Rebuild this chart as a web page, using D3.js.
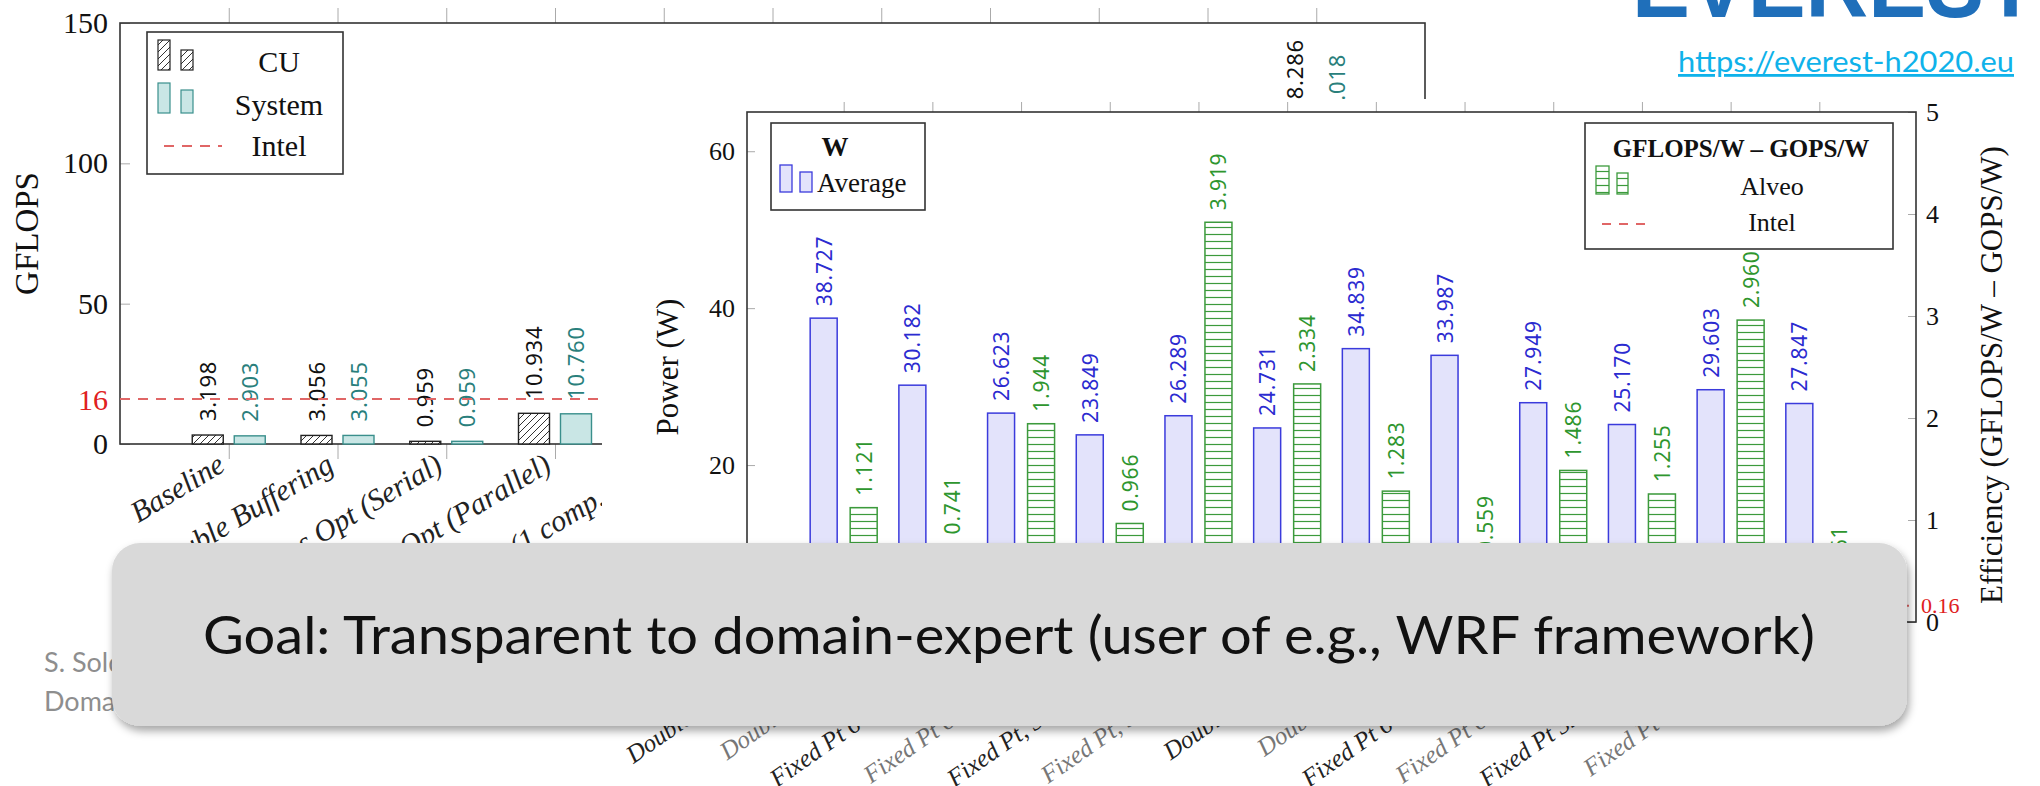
<!DOCTYPE html>
<html>
<head>
<meta charset="utf-8">
<script src="https://cdn.jsdelivr.net/npm/d3@7"></script>
<style>
  html, body { margin: 0; padding: 0; background: #fff; }
  svg { display: block; }
</style>
</head>
<body>
<script>
// ---------- GFLOPS per optimisation step (rear chart) ----------
const gflopsCategories = [
  "Baseline", "Double Buffering", "Memory Access Opt (Serial)", "Memory Access Opt (Parallel)",
  "Memory (1 comp. unit)", "Memory (2 comp. units)", "Memory (3 comp. units)",
  "Memory (4 comp. units)", "Memory (5 comp. units)", "Memory (6 comp. units)",
  "Memory (7 comp. units)"
];
// values that sit behind the front chart are unknown
const cuGflops     = [3.198, 3.056, 0.959, 10.934, null, null, null, null, null, null, 108.286];
const systemGflops = [2.903, 3.055, 0.959, 10.760, null, null, null, null, null, null, 103.018];
const intelGflops = 16;
const gflopsTicks = [0, 50, 100, 150];

// ---------- Power and efficiency per configuration (front chart) ----------
const configCategories = [
  "Double Precision, 1 CU", "Double Precision 2 CU",
  "Fixed Pt 64b, Q32.32, 1 CU", "Fixed Pt 64b Q32.32, 2 CU",
  "Fixed Pt, 32b Q16.16, 1 CU", "Fixed Pt, 32b Q16.16 2 CU",
  "Double Precision 3 CU", "Double Precision 4CU",
  "Fixed Pt 64b, Q32.32, 3 CU", "Fixed Pt 64b Q32.32, 4 CU",
  "Fixed Pt 32b, Q16.16, 3 CU", "Fixed Pt 32b Q16.16 4CU"
];
const averagePower = [38.727, 30.182, 26.623, 23.849, 26.289, 24.731, 34.839, 33.987, 27.949, 25.170, 29.603, 27.847];
const alveoEfficiency = [1.121, 0.741, 1.944, 0.966, 3.919, 2.334, 1.283, 0.559, 1.486, 1.255, 2.960, 0.261];
const intelEfficiency = 0.16;
const powerTicks = [0, 20, 40, 60];
const efficiencyTicks = [0, 1, 2, 3, 4, 5];

const W = 2040, H = 786;
const serif = "'Liberation Serif', 'DejaVu Serif', serif";
const sans = "'Noto Sans', 'DejaVu Sans', sans-serif";
const slide = "Lato, 'Noto Sans', sans-serif";
const fmt = d3.format(".3f");

const svg = d3.select("body").append("svg").attr("width", W).attr("height", H);
const defs = svg.append("defs");

// hatch for CU bars
const hatch = defs.append("pattern").attr("id", "hatchCU")
  .attr("patternUnits", "userSpaceOnUse").attr("width", 7).attr("height", 7);
hatch.append("rect").attr("width", 7).attr("height", 7).attr("fill", "#fff");
hatch.append("path").attr("d", "M-1,1 l2,-2 M0,7 l7,-7 M6,8 l2,-2")
  .attr("stroke", "#333").attr("stroke-width", 1);

// horizontal rungs for the Alveo efficiency bars
const rungs = defs.append("pattern").attr("id", "rungs")
  .attr("patternUnits", "userSpaceOnUse").attr("width", 10).attr("height", 7);
rungs.append("rect").attr("width", 10).attr("height", 7).attr("fill", "#fff");
rungs.append("path").attr("d", "M0,3.5 H10").attr("stroke", "#3c9a3c").attr("stroke-width", 1.2);

const shadow = defs.append("filter").attr("id", "boxShadow")
  .attr("x", "-5%").attr("y", "-20%").attr("width", "110%").attr("height", "150%");
shadow.append("feDropShadow").attr("dx", 2).attr("dy", 5).attr("stdDeviation", 4)
  .attr("flood-color", "#000").attr("flood-opacity", 0.35);

// ================= rear chart: GFLOPS =================
const rear = svg.append("g");
const bx = d3.scalePoint().domain(gflopsCategories).range([120, 1425]).padding(1);
const by = d3.scaleLinear().domain([0, 150]).range([444, 23]);

// tick marks on top and bottom of the frame
rear.append("g").attr("transform", "translate(0,23)")
  .call(d3.axisTop(bx).tickSize(15).tickFormat(""))
  .call(g => g.select(".domain").remove())
  .call(g => g.selectAll("line").attr("stroke", "#aaa"));
rear.append("g").attr("transform", "translate(0,444)")
  .call(d3.axisBottom(bx).tickSize(15).tickFormat(""))
  .call(g => g.select(".domain").remove())
  .call(g => g.selectAll("line").attr("stroke", "#aaa"));

rear.append("g").attr("transform", "translate(120,0)")
  .call(d3.axisLeft(by).tickValues(gflopsTicks).tickFormat(d3.format("d"))
    .tickSizeInner(-10).tickSizeOuter(0).tickPadding(12))
  .call(g => g.select(".domain").remove())
  .call(g => g.selectAll("line").attr("stroke", "#aaa"))
  .call(g => g.selectAll("text").attr("font-family", serif).attr("font-size", 30).attr("fill", "#111"));

rear.append("text").attr("x", 108).attr("y", by(intelGflops)).attr("dy", "0.35em")
  .attr("text-anchor", "end").attr("font-family", serif).attr("font-size", 30)
  .attr("fill", "#e02020").text(intelGflops);

rear.append("rect").attr("x", 120).attr("y", 23).attr("width", 1305).attr("height", 421)
  .attr("fill", "none").attr("stroke", "#333").attr("stroke-width", 1.6);

rear.append("text").attr("transform", `translate(38,${(23 + 444) / 2}) rotate(-90)`)
  .attr("text-anchor", "middle").attr("font-family", serif).attr("font-size", 33)
  .attr("fill", "#111").text("GFLOPS");

const rearData = gflopsCategories.map((c, i) => ({ c, cu: cuGflops[i], sys: systemGflops[i] }));
const bw = 31;
rear.selectAll("rect.cu").data(rearData.filter(d => d.cu != null)).join("rect")
  .attr("class", "cu")
  .attr("x", d => bx(d.c) - 21 - bw / 2).attr("width", bw)
  .attr("y", d => by(d.cu)).attr("height", d => by(0) - by(d.cu))
  .attr("fill", "url(#hatchCU)").attr("stroke", "#222").attr("stroke-width", 1.4);
rear.selectAll("rect.sys").data(rearData.filter(d => d.sys != null)).join("rect")
  .attr("class", "sys")
  .attr("x", d => bx(d.c) + 21 - bw / 2).attr("width", bw)
  .attr("y", d => by(d.sys)).attr("height", d => by(0) - by(d.sys))
  .attr("fill", "#c9e6e5").attr("stroke", "#3a8f8c").attr("stroke-width", 1.4);

rear.selectAll("text.cuv").data(rearData.filter(d => d.cu != null)).join("text")
  .attr("class", "cuv")
  .attr("transform", d => `translate(${bx(d.c) - 21 + 8},${by(d.cu) - 14}) rotate(-90)`)
  .attr("font-family", sans).attr("font-size", 22).attr("letter-spacing", 0.8)
  .attr("fill", "#111").text(d => fmt(d.cu));
rear.selectAll("text.sysv").data(rearData.filter(d => d.sys != null)).join("text")
  .attr("class", "sysv")
  .attr("transform", d => `translate(${bx(d.c) + 21 + 8},${by(d.sys) - 14}) rotate(-90)`)
  .attr("font-family", sans).attr("font-size", 22).attr("letter-spacing", 0.8)
  .attr("fill", "#2a7f7c").text(d => fmt(d.sys));

rear.append("line").attr("x1", 120).attr("x2", 1425)
  .attr("y1", by(intelGflops)).attr("y2", by(intelGflops))
  .attr("stroke", "#e06666").attr("stroke-width", 2).attr("stroke-dasharray", "10,8");

rear.selectAll("text.xlab").data(gflopsCategories).join("text")
  .attr("class", "xlab")
  .attr("transform", d => `translate(${bx(d) - 2},${470}) rotate(-31)`)
  .attr("text-anchor", "end").attr("font-family", serif).attr("font-style", "italic")
  .attr("font-size", 30).attr("fill", "#222").text(d => d);

// legend
const rl = rear.append("g");
rl.append("rect").attr("x", 147).attr("y", 32).attr("width", 196).attr("height", 142)
  .attr("fill", "#fff").attr("stroke", "#333").attr("stroke-width", 1.6);
[[158, 40, 12, 30], [181, 50, 12, 20]].forEach(([x, y, w, h]) =>
  rl.append("rect").attr("x", x).attr("y", y).attr("width", w).attr("height", h)
    .attr("fill", "url(#hatchCU)").attr("stroke", "#222").attr("stroke-width", 1.2));
[[158, 83, 12, 30], [181, 90, 12, 23]].forEach(([x, y, w, h]) =>
  rl.append("rect").attr("x", x).attr("y", y).attr("width", w).attr("height", h)
    .attr("fill", "#c9e6e5").attr("stroke", "#3a8f8c").attr("stroke-width", 1.2));
rl.append("line").attr("x1", 164).attr("x2", 222).attr("y1", 146).attr("y2", 146)
  .attr("stroke", "#e06666").attr("stroke-width", 2).attr("stroke-dasharray", "10,8");
[["CU", 61], ["System", 104], ["Intel", 145]].forEach(([t, y]) =>
  rl.append("text").attr("x", 279).attr("y", y).attr("dy", "0.35em").attr("text-anchor", "middle")
    .attr("font-family", serif).attr("font-size", 30).attr("fill", "#111").text(t));

// ================= front chart: power and efficiency =================
const front = svg.append("g");
front.append("rect").attr("x", 602).attr("y", 99).attr("width", W - 602).attr("height", H - 99)
  .attr("fill", "#fff");

const fx = d3.scalePoint().domain(configCategories).range([747, 1916]).padding(1.09);
const fyL = d3.scaleLinear().domain([0, 65]).range([622, 112]);
const fyR = d3.scaleLinear().domain([0, 5]).range([622, 112]);

front.append("g").attr("transform", "translate(0,112)")
  .call(d3.axisTop(fx).tickSize(10).tickFormat(""))
  .call(g => g.select(".domain").remove())
  .call(g => g.selectAll("line").attr("stroke", "#aaa"));
front.append("g").attr("transform", "translate(0,622)")
  .call(d3.axisBottom(fx).tickSize(10).tickFormat(""))
  .call(g => g.select(".domain").remove())
  .call(g => g.selectAll("line").attr("stroke", "#aaa"));

front.append("g").attr("transform", "translate(747,0)")
  .call(d3.axisLeft(fyL).tickValues(powerTicks).tickFormat(d3.format("d"))
    .tickSizeInner(-8).tickSizeOuter(0).tickPadding(12))
  .call(g => g.select(".domain").remove())
  .call(g => g.selectAll("line").attr("stroke", "#aaa"))
  .call(g => g.selectAll("text").attr("font-family", serif).attr("font-size", 26).attr("fill", "#111"));
front.append("g").attr("transform", "translate(1916,0)")
  .call(d3.axisRight(fyR).tickValues(efficiencyTicks).tickFormat(d3.format("d"))
    .tickSizeInner(-8).tickSizeOuter(0).tickPadding(10))
  .call(g => g.select(".domain").remove())
  .call(g => g.selectAll("line").attr("stroke", "#aaa"))
  .call(g => g.selectAll("text").attr("font-family", serif).attr("font-size", 26).attr("fill", "#111"));
front.append("text").attr("x", 1921).attr("y", fyR(intelEfficiency)).attr("dy", "0.35em")
  .attr("font-family", serif).attr("font-size", 22).attr("fill", "#e02020").text(intelEfficiency.toFixed(2));

front.append("rect").attr("x", 747).attr("y", 112).attr("width", 1916 - 747).attr("height", 510)
  .attr("fill", "none").attr("stroke", "#333").attr("stroke-width", 1.6);

front.append("text").attr("transform", `translate(678,${(112 + 622) / 2}) rotate(-90)`)
  .attr("text-anchor", "middle").attr("font-family", serif).attr("font-size", 31)
  .attr("fill", "#111").text("Power (W)");
front.append("text").attr("transform", `translate(2002,${(112 + 622) / 2 + 8}) rotate(-90)`)
  .attr("text-anchor", "middle").attr("font-family", serif).attr("font-size", 31)
  .attr("fill", "#111").text("Efficiency (GFLOPS/W – GOPS/W)");

const frontData = configCategories.map((c, i) => ({ c, p: averagePower[i], e: alveoEfficiency[i] }));
const fw = 27;
front.selectAll("rect.pw").data(frontData).join("rect")
  .attr("class", "pw")
  .attr("x", d => fx(d.c) - 20 - fw / 2).attr("width", fw)
  .attr("y", d => fyL(d.p)).attr("height", d => fyL(0) - fyL(d.p))
  .attr("fill", "#e3e3fb").attr("stroke", "#3b3bdc").attr("stroke-width", 1.5);
front.selectAll("rect.ef").data(frontData).join("rect")
  .attr("class", "ef")
  .attr("x", d => fx(d.c) + 20 - fw / 2).attr("width", fw)
  .attr("y", d => fyR(d.e)).attr("height", d => fyR(0) - fyR(d.e))
  .attr("fill", "url(#rungs)").attr("stroke", "#3c9a3c").attr("stroke-width", 1.5);

front.selectAll("text.pwv").data(frontData).join("text")
  .attr("class", "pwv")
  .attr("transform", d => `translate(${fx(d.c) - 20 + 8},${fyL(d.p) - 12}) rotate(-90)`)
  .attr("font-family", sans).attr("font-size", 21).attr("letter-spacing", 0.8)
  .attr("fill", "#2b2bd0").text(d => fmt(d.p));
front.selectAll("text.efv").data(frontData).join("text")
  .attr("class", "efv")
  .attr("transform", d => `translate(${fx(d.c) + 20 + 8},${fyR(d.e) - 12}) rotate(-90)`)
  .attr("font-family", sans).attr("font-size", 21).attr("letter-spacing", 0.8)
  .attr("fill", "#2e962e").text(d => fmt(d.e));

front.append("line").attr("x1", 747).attr("x2", 1916)
  .attr("y1", fyR(intelEfficiency)).attr("y2", fyR(intelEfficiency))
  .attr("stroke", "#e06666").attr("stroke-width", 2).attr("stroke-dasharray", "10,8");

front.selectAll("text.xlab").data(configCategories).join("text")
  .attr("class", "xlab")
  .attr("transform", d => `translate(${fx(d) - 13},${626}) rotate(-35)`)
  .attr("text-anchor", "end").attr("font-family", serif).attr("font-style", "italic")
  .attr("font-size", 25).attr("fill", (d, i) => i % 2 ? "#777" : "#222").text(d => d);

// power legend
const pl = front.append("g");
pl.append("rect").attr("x", 771).attr("y", 123).attr("width", 154).attr("height", 87)
  .attr("fill", "#fff").attr("stroke", "#333").attr("stroke-width", 1.6);
pl.append("text").attr("x", 835).attr("y", 147).attr("dy", "0.35em").attr("text-anchor", "middle")
  .attr("font-family", serif).attr("font-weight", "bold").attr("font-size", 27).attr("fill", "#111").text("W");
[[780, 165, 12, 27], [800, 172, 12, 20]].forEach(([x, y, w, h]) =>
  pl.append("rect").attr("x", x).attr("y", y).attr("width", w).attr("height", h)
    .attr("fill", "#e3e3fb").attr("stroke", "#3b3bdc").attr("stroke-width", 1.3));
pl.append("text").attr("x", 817).attr("y", 183).attr("dy", "0.35em")
  .attr("font-family", serif).attr("font-size", 27).attr("fill", "#111").text("Average");

// efficiency legend
const el = front.append("g");
el.append("rect").attr("x", 1585).attr("y", 123).attr("width", 308).attr("height", 126)
  .attr("fill", "#fff").attr("stroke", "#333").attr("stroke-width", 1.6);
el.append("text").attr("x", 1741).attr("y", 148).attr("dy", "0.35em").attr("text-anchor", "middle")
  .attr("font-family", serif).attr("font-weight", "bold").attr("font-size", 25).attr("fill", "#111")
  .text("GFLOPS/W – GOPS/W");
[[1596, 166, 13, 28], [1617, 173, 11, 21]].forEach(([x, y, w, h]) =>
  el.append("rect").attr("x", x).attr("y", y).attr("width", w).attr("height", h)
    .attr("fill", "url(#rungs)").attr("stroke", "#3c9a3c").attr("stroke-width", 1.3));
el.append("line").attr("x1", 1602).attr("x2", 1652).attr("y1", 224).attr("y2", 224)
  .attr("stroke", "#e06666").attr("stroke-width", 2).attr("stroke-dasharray", "9,8");
[["Alveo", 186], ["Intel", 222]].forEach(([t, y]) =>
  el.append("text").attr("x", 1772).attr("y", y).attr("dy", "0.35em").attr("text-anchor", "middle")
    .attr("font-family", serif).attr("font-size", 26).attr("fill", "#111").text(t));

// ================= slide decorations =================
svg.append("text").attr("x", 1632).attr("y", 17).attr("textLength", 405).attr("lengthAdjust", "spacingAndGlyphs")
  .attr("font-family", "'Liberation Sans', Arial, sans-serif").attr("font-weight", "bold")
  .attr("font-size", 95).attr("fill", "#1f6fba").text("EVEREST");
svg.append("text").attr("x", 1678).attr("y", 72).attr("textLength", 336).attr("lengthAdjust", "spacingAndGlyphs")
  .attr("font-family", slide).attr("font-size", 28).attr("fill", "#0fb2ea")
  .attr("text-decoration", "underline").text("https://everest-h2020.eu");

svg.append("text").attr("x", 44).attr("y", 672).attr("font-family", slide).attr("font-size", 27)
  .attr("fill", "#8e8e8e").text("S. Soldavini et al.");
svg.append("text").attr("x", 44).attr("y", 711).attr("font-family", slide).attr("font-size", 27)
  .attr("fill", "#8e8e8e").text("Domain-Specific Languages");

svg.append("rect").attr("x", 112).attr("y", 543).attr("width", 1795).attr("height", 183)
  .attr("rx", 28).attr("fill", "#d9d9d9").attr("filter", "url(#boxShadow)");
svg.append("text").attr("x", 1009).attr("y", 654).attr("text-anchor", "middle")
  .attr("textLength", 1612).attr("lengthAdjust", "spacingAndGlyphs")
  .attr("font-family", slide).attr("font-size", 53).attr("fill", "#111")
  .text("Goal: Transparent to domain-expert (user of e.g., WRF framework)");
</script>
</body>
</html>
